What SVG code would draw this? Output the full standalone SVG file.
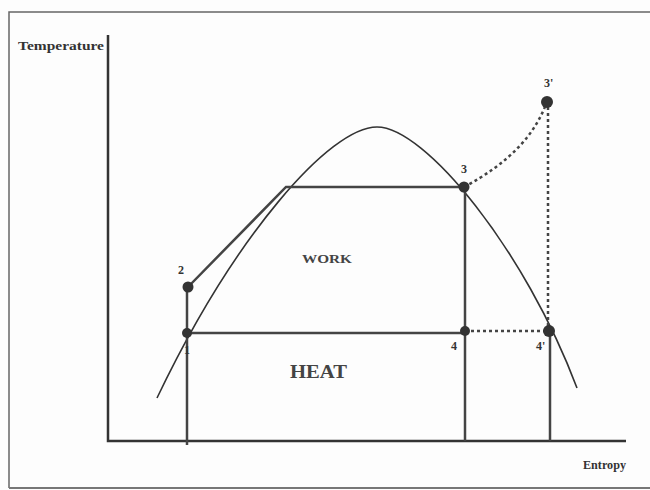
<svg xmlns="http://www.w3.org/2000/svg" width="650" height="490" viewBox="0 0 650 490">
<style>
.frame{stroke:#666;stroke-width:1.5;fill:none}
.axis{stroke:#333;stroke-width:2.5;fill:none}
.solid{stroke:#444;stroke-width:2.5;fill:none}
.dome{stroke:#333;stroke-width:1.6;fill:none}
.dot{stroke:#444;stroke-width:2.5;stroke-dasharray:3 3;fill:none}
.pt{fill:#333}
.lbl{font-family:"Liberation Serif",serif;font-weight:bold;font-size:12px;fill:#333}
.ax{font-family:"Liberation Serif",serif;font-weight:bold;font-size:13px;fill:#333}
</style>
<rect x="0" y="0" width="650" height="490" fill="#fdfdfd"/>
<path class="frame" d="M9,488 V12 H650"/>
<line x1="9" y1="488" x2="650" y2="488" stroke="#777" stroke-width="2"/>
<g id="axes">
<path class="axis" d="M108,35 V441 H626"/>
<text class="ax" x="18" y="50" textLength="86" lengthAdjust="spacingAndGlyphs">Temperature</text>
<text class="ax" x="583" y="469" textLength="43" lengthAdjust="spacingAndGlyphs">Entropy</text>
</g>
<g id="dome">
<path class="dome" d="M157,398 C235,235 330,127 377,127 C425,127 525,250 577,388"/>
</g>
<g id="connectors">
<path class="solid" d="M187,287 V445"/>
<path class="solid" d="M188,287 L286,187 H465"/>
<path class="solid" d="M465,187 V441"/>
<path class="solid" d="M187,333 H465"/>
<path class="solid" d="M550,331 V441"/>
<path class="dot" d="M465,331 H549"/>
<path class="dot" d="M548,101 V331"/>
<path class="dot" d="M464,187 Q530,152 547,101"/>
</g>
<g id="p1"><circle class="pt" cx="187" cy="333" r="5"/><text class="lbl" x="184" y="354">1</text></g>
<g id="p2"><circle class="pt" cx="188" cy="287" r="5.5"/><text class="lbl" x="178" y="274">2</text></g>
<g id="p3"><circle class="pt" cx="464" cy="187" r="5.5"/><text class="lbl" x="461" y="173">3</text></g>
<g id="p4"><circle class="pt" cx="465" cy="331" r="5"/><text class="lbl" x="451" y="350">4</text></g>
<g id="p4b"><circle class="pt" cx="549" cy="331" r="6"/><text class="lbl" x="536" y="350">4'</text></g>
<g id="p3b"><circle class="pt" cx="547" cy="102" r="6"/><text class="lbl" x="544" y="87">3'</text></g>
<g id="labels">
<text x="302" y="263" textLength="50" lengthAdjust="spacingAndGlyphs" style="font-family:'Liberation Serif',serif;font-weight:bold;font-size:13px;fill:#444">WORK</text>
<text x="290" y="378" textLength="57" lengthAdjust="spacingAndGlyphs" style="font-family:'Liberation Serif',serif;font-weight:bold;font-size:18px;fill:#444">HEAT</text>
</g>
</svg>
